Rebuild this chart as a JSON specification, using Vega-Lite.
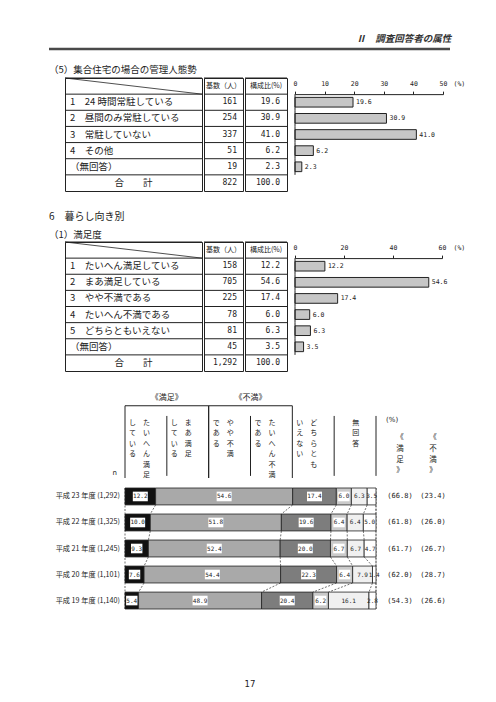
{
  "$schema": "https://vega.github.io/schema/vega-lite/v6.json",
  "background": "white",
  "padding": {"left": 47, "top": 33, "right": 0, "bottom": 0},
  "spacing": 0,
  "config": {
    "view": {"stroke": null},
    "font": "Noto Sans CJK JP",
    "text": {"font": "Noto Sans CJK JP", "color": "#222"},
    "title": {"font": "Noto Sans CJK JP", "fontWeight": "normal", "color": "#222", "subtitleFont": "Noto Sans CJK JP", "subtitleColor": "#222"},
    "concat": {"spacing": 0},
    "axis": {"domainColor": "#222", "tickColor": "#222", "labelColor": "#222", "labelFont": "DejaVu Sans Mono"}
  },
  "datasets": {
    "t1": [
      {"id": "h", "label": "", "n": null, "pct": null},
      {"id": "1", "label": "1　24 時間常駐している", "n": 161, "pct": 19.6},
      {"id": "2", "label": "2　昼間のみ常駐している", "n": 254, "pct": 30.9},
      {"id": "3", "label": "3　常駐していない", "n": 337, "pct": 41.0},
      {"id": "4", "label": "4　その他", "n": 51, "pct": 6.2},
      {"id": "5", "label": "　（無回答）", "n": 19, "pct": 2.3},
      {"id": "t", "label": "合　　計", "n": 822, "pct": 100.0}
    ],
    "t2": [
      {"id": "h", "label": "", "n": null, "pct": null},
      {"id": "1", "label": "1　たいへん満足している", "n": 158, "pct": 12.2},
      {"id": "2", "label": "2　まあ満足している", "n": 705, "pct": 54.6},
      {"id": "3", "label": "3　やや不満である", "n": 225, "pct": 17.4},
      {"id": "4", "label": "4　たいへん不満である", "n": 78, "pct": 6.0},
      {"id": "5", "label": "5　どちらともいえない", "n": 81, "pct": 6.3},
      {"id": "6", "label": "　（無回答）", "n": 45, "pct": 3.5},
      {"id": "t", "label": "合　　計", "n": 1292, "pct": 100.0}
    ],
    "st": [
      {"yr": "平成 23 年度 (1,292)", "fy": 23, "cat": "c1", "value": 12.2},
      {"yr": "平成 23 年度 (1,292)", "fy": 23, "cat": "c2", "value": 54.6},
      {"yr": "平成 23 年度 (1,292)", "fy": 23, "cat": "c3", "value": 17.4},
      {"yr": "平成 23 年度 (1,292)", "fy": 23, "cat": "c4", "value": 6.0},
      {"yr": "平成 23 年度 (1,292)", "fy": 23, "cat": "c5", "value": 6.3},
      {"yr": "平成 23 年度 (1,292)", "fy": 23, "cat": "c6", "value": 3.5},
      {"yr": "平成 22 年度 (1,325)", "fy": 22, "cat": "c1", "value": 10.0},
      {"yr": "平成 22 年度 (1,325)", "fy": 22, "cat": "c2", "value": 51.8},
      {"yr": "平成 22 年度 (1,325)", "fy": 22, "cat": "c3", "value": 19.6},
      {"yr": "平成 22 年度 (1,325)", "fy": 22, "cat": "c4", "value": 6.4},
      {"yr": "平成 22 年度 (1,325)", "fy": 22, "cat": "c5", "value": 6.4},
      {"yr": "平成 22 年度 (1,325)", "fy": 22, "cat": "c6", "value": 5.0},
      {"yr": "平成 21 年度 (1,245)", "fy": 21, "cat": "c1", "value": 9.3},
      {"yr": "平成 21 年度 (1,245)", "fy": 21, "cat": "c2", "value": 52.4},
      {"yr": "平成 21 年度 (1,245)", "fy": 21, "cat": "c3", "value": 20.0},
      {"yr": "平成 21 年度 (1,245)", "fy": 21, "cat": "c4", "value": 6.7},
      {"yr": "平成 21 年度 (1,245)", "fy": 21, "cat": "c5", "value": 6.7},
      {"yr": "平成 21 年度 (1,245)", "fy": 21, "cat": "c6", "value": 4.7},
      {"yr": "平成 20 年度 (1,101)", "fy": 20, "cat": "c1", "value": 7.6},
      {"yr": "平成 20 年度 (1,101)", "fy": 20, "cat": "c2", "value": 54.4},
      {"yr": "平成 20 年度 (1,101)", "fy": 20, "cat": "c3", "value": 22.3},
      {"yr": "平成 20 年度 (1,101)", "fy": 20, "cat": "c4", "value": 6.4},
      {"yr": "平成 20 年度 (1,101)", "fy": 20, "cat": "c5", "value": 7.9},
      {"yr": "平成 20 年度 (1,101)", "fy": 20, "cat": "c6", "value": 1.4},
      {"yr": "平成 19 年度 (1,140)", "fy": 19, "cat": "c1", "value": 5.4},
      {"yr": "平成 19 年度 (1,140)", "fy": 19, "cat": "c2", "value": 48.9},
      {"yr": "平成 19 年度 (1,140)", "fy": 19, "cat": "c3", "value": 20.4},
      {"yr": "平成 19 年度 (1,140)", "fy": 19, "cat": "c4", "value": 6.2},
      {"yr": "平成 19 年度 (1,140)", "fy": 19, "cat": "c5", "value": 16.1},
      {"yr": "平成 19 年度 (1,140)", "fy": 19, "cat": "c6", "value": 2.8}
    ],
    "yrs": [
      {"yr": "平成 23 年度 (1,292)", "sat": "(66.8)", "dis": "(23.4)"},
      {"yr": "平成 22 年度 (1,325)", "sat": "(61.8)", "dis": "(26.0)"},
      {"yr": "平成 21 年度 (1,245)", "sat": "(61.7)", "dis": "(26.7)"},
      {"yr": "平成 20 年度 (1,101)", "sat": "(62.0)", "dis": "(28.7)"},
      {"yr": "平成 19 年度 (1,140)", "sat": "(54.3)", "dis": "(26.6)"}
    ],
    "hdr": [
      {"cat": "c1", "line": "1", "text": "た\nい\nへ\nん\n満\n足"},
      {"cat": "c1", "line": "2", "text": "し\nて\nい\nる"},
      {"cat": "c2", "line": "1", "text": "ま\nあ\n満\n足"},
      {"cat": "c2", "line": "2", "text": "し\nて\nい\nる"},
      {"cat": "c3", "line": "1", "text": "や\nや\n不\n満"},
      {"cat": "c3", "line": "2", "text": "で\nあ\nる"},
      {"cat": "c4", "line": "1", "text": "た\nい\nへ\nん\n不\n満"},
      {"cat": "c4", "line": "2", "text": "で\nあ\nる"},
      {"cat": "c5", "line": "1", "text": "ど\nち\nら\nと\nも"},
      {"cat": "c5", "line": "2", "text": "い\nえ\nな\nい"},
      {"cat": "c6", "line": "1", "text": "無\n回\n答"}
    ]
  },
  "vconcat": [
    {
      "width": 401, "height": 2,
      "title": {"text": "Ⅱ　調査回答者の属性", "anchor": "end", "fontSize": 9.5, "fontStyle": "italic", "fontWeight": "bold", "color": "#333", "offset": 4},
      "data": {"values": [{}]},
      "mark": {"type": "rule", "strokeWidth": 2.5, "color": "#4a4a4a"},
      "encoding": {"y": {"datum": 0, "type": "quantitative", "scale": {"domain": [0, 1]}, "axis": null}}
    },
    {"width": 1, "height": 13, "data": {"values": []}, "mark": "point", "encoding": {}},
    {
      "title": {"text": "（5）集合住宅の場合の管理人態勢", "anchor": "start", "fontSize": 9.5, "offset": 3},
      "spacing": 0,
      "hconcat": [
        {"width": 15, "height": 1, "data": {"values": []}, "mark": "point", "encoding": {}},
        {
          "width": 137, "height": 113,
          "data": {"name": "t1"},
          "view": {"stroke": "#222", "strokeWidth": 1},
          "encoding": {"y": {"field": "id", "type": "nominal", "scale": {"type": "band", "domain": ["h", "1", "2", "3", "4", "5", "t"], "paddingInner": 0, "paddingOuter": 0}, "axis": null}},
          "layer": [
            {"mark": {"type": "rule", "color": "#222", "strokeWidth": 1}, "encoding": {"y": {"field": "id", "type": "nominal", "bandPosition": 0}}},
            {"transform": [{"filter": "datum.id != 'h' && datum.id != 't'"}], "mark": {"type": "text", "align": "left", "dx": 5, "fontSize": 9.5}, "encoding": {"x": {"datum": 0, "type": "quantitative", "scale": {"domain": [0, 1]}, "axis": null}, "text": {"field": "label"}}},
            {"transform": [{"filter": "datum.id == 't'"}], "mark": {"type": "text", "align": "center", "fontSize": 9.5}, "encoding": {"x": {"datum": 0.5, "type": "quantitative", "scale": {"domain": [0, 1]}, "axis": null}, "text": {"field": "label"}}},
            {"transform": [{"filter": "datum.id == 'h'"}], "mark": {"type": "rule", "strokeWidth": 0.8, "color": "#222"}, "encoding": {"x": {"datum": 0, "type": "quantitative", "scale": {"domain": [0, 1]}, "axis": null}, "x2": {"datum": 1}, "y": {"field": "id", "type": "nominal", "bandPosition": 0}, "y2": {"field": "id", "bandPosition": 1}}}
          ]
        },
        {
          "width": 39, "height": 113,
          "data": {"name": "t1"},
          "view": {"stroke": "#222", "strokeWidth": 1},
          "encoding": {"y": {"field": "id", "type": "nominal", "scale": {"type": "band", "domain": ["h", "1", "2", "3", "4", "5", "t"], "paddingInner": 0, "paddingOuter": 0}, "axis": null}},
          "layer": [
            {"mark": {"type": "rule", "color": "#222", "strokeWidth": 1}, "encoding": {"y": {"field": "id", "type": "nominal", "bandPosition": 0}}},
            {"transform": [{"filter": "datum.id == 'h'"}], "mark": {"type": "text", "text": "基数（人）", "fontSize": 7}, "encoding": {"x": {"datum": 0.5, "type": "quantitative", "scale": {"domain": [0, 1]}, "axis": null}}},
            {"transform": [{"filter": "datum.id != 'h'"}], "mark": {"type": "text", "align": "right", "dx": -6, "font": "DejaVu Sans Mono", "fontSize": 8}, "encoding": {"x": {"datum": 1, "type": "quantitative", "scale": {"domain": [0, 1]}, "axis": null}, "text": {"field": "n", "format": ",d"}}}
          ]
        },
        {
          "width": 42, "height": 113,
          "data": {"name": "t1"},
          "view": {"stroke": "#222", "strokeWidth": 1},
          "encoding": {"y": {"field": "id", "type": "nominal", "scale": {"type": "band", "domain": ["h", "1", "2", "3", "4", "5", "t"], "paddingInner": 0, "paddingOuter": 0}, "axis": null}},
          "layer": [
            {"mark": {"type": "rule", "color": "#222", "strokeWidth": 1}, "encoding": {"y": {"field": "id", "type": "nominal", "bandPosition": 0}}},
            {"transform": [{"filter": "datum.id == 'h'"}], "mark": {"type": "text", "text": "構成比(%)", "fontSize": 7}, "encoding": {"x": {"datum": 0.5, "type": "quantitative", "scale": {"domain": [0, 1]}, "axis": null}}},
            {"transform": [{"filter": "datum.id != 'h'"}], "mark": {"type": "text", "align": "right", "dx": -7, "font": "DejaVu Sans Mono", "fontSize": 8}, "encoding": {"x": {"datum": 1, "type": "quantitative", "scale": {"domain": [0, 1]}, "axis": null}, "text": {"field": "pct", "format": ".1f"}}}
          ]
        },
        {"width": 5, "height": 1, "data": {"values": []}, "mark": "point", "encoding": {}},
        {
          "width": 148, "height": 113,
          "data": {"name": "t1"},
          "transform": [{"filter": "datum.id != 'h' && datum.id != 't'"}],
          "encoding": {
            "y": {"field": "id", "type": "nominal", "scale": {"type": "band", "domain": ["h", "1", "2", "3", "4", "5", "t"], "paddingInner": 0, "paddingOuter": 0}, "axis": null},
            "x": {"field": "pct", "type": "quantitative", "scale": {"domain": [0, 50], "nice": false}, "axis": {"orient": "top", "offset": -16.14, "values": [0, 10, 20, 30, 40, 50], "grid": false, "labelFlush": false, "labelOverlap": false, "labelFontSize": 6.5, "tickSize": 3, "labelPadding": 5, "title": "(%)", "titleFont": "DejaVu Sans Mono", "titleFontSize": 6.5, "titleFontWeight": "normal", "titleColor": "#222", "titleAngle": 0, "titleAlign": "left", "titleBaseline": "middle", "titleX": 158, "titleY": -11}}
          },
          "layer": [
            {"mark": {"type": "bar", "height": {"band": 0.6}, "fill": "#c6c6c6", "stroke": "#222", "strokeWidth": 1}},
            {"mark": {"type": "rule", "color": "#222", "strokeWidth": 1}, "encoding": {"x": {"datum": 0, "type": "quantitative", "axis": {"orient": "top", "offset": -16.14, "values": [0, 10, 20, 30, 40, 50], "grid": false, "labelFlush": false, "labelOverlap": false, "labelFontSize": 6.5, "tickSize": 3, "labelPadding": 5, "title": "(%)", "titleFont": "DejaVu Sans Mono", "titleFontSize": 6.5, "titleFontWeight": "normal", "titleColor": "#222", "titleAngle": 0, "titleAlign": "left", "titleBaseline": "middle", "titleX": 158, "titleY": -11}}, "y": {"field": "id", "type": "nominal", "bandPosition": 0}, "y2": {"field": "id", "bandPosition": 1}}},
            {"mark": {"type": "text", "align": "left", "dx": 3, "font": "DejaVu Sans Mono", "fontSize": 6.5}, "encoding": {"text": {"field": "pct", "format": ".1f"}}}
          ]
        }
      ]
    },
    {"width": 1, "height": 19, "data": {"values": []}, "mark": "point", "encoding": {}},
    {
      "title": {"text": "6　暮らし向き別", "subtitle": "（1）満足度", "anchor": "start", "fontSize": 10, "subtitleFontSize": 9.5, "subtitlePadding": 8, "offset": 2},
      "spacing": 0,
      "hconcat": [
        {"width": 15, "height": 1, "data": {"values": []}, "mark": "point", "encoding": {}},
        {
          "width": 137, "height": 129,
          "data": {"name": "t2"},
          "view": {"stroke": "#222", "strokeWidth": 1},
          "encoding": {"y": {"field": "id", "type": "nominal", "scale": {"type": "band", "domain": ["h", "1", "2", "3", "4", "5", "6", "t"], "paddingInner": 0, "paddingOuter": 0}, "axis": null}},
          "layer": [
            {"mark": {"type": "rule", "color": "#222", "strokeWidth": 1}, "encoding": {"y": {"field": "id", "type": "nominal", "bandPosition": 0}}},
            {"transform": [{"filter": "datum.id != 'h' && datum.id != 't'"}], "mark": {"type": "text", "align": "left", "dx": 5, "fontSize": 9.5}, "encoding": {"x": {"datum": 0, "type": "quantitative", "scale": {"domain": [0, 1]}, "axis": null}, "text": {"field": "label"}}},
            {"transform": [{"filter": "datum.id == 't'"}], "mark": {"type": "text", "align": "center", "fontSize": 9.5}, "encoding": {"x": {"datum": 0.5, "type": "quantitative", "scale": {"domain": [0, 1]}, "axis": null}, "text": {"field": "label"}}},
            {"transform": [{"filter": "datum.id == 'h'"}], "mark": {"type": "rule", "strokeWidth": 0.8, "color": "#222"}, "encoding": {"x": {"datum": 0, "type": "quantitative", "scale": {"domain": [0, 1]}, "axis": null}, "x2": {"datum": 1}, "y": {"field": "id", "type": "nominal", "bandPosition": 0}, "y2": {"field": "id", "bandPosition": 1}}}
          ]
        },
        {
          "width": 39, "height": 129,
          "data": {"name": "t2"},
          "view": {"stroke": "#222", "strokeWidth": 1},
          "encoding": {"y": {"field": "id", "type": "nominal", "scale": {"type": "band", "domain": ["h", "1", "2", "3", "4", "5", "6", "t"], "paddingInner": 0, "paddingOuter": 0}, "axis": null}},
          "layer": [
            {"mark": {"type": "rule", "color": "#222", "strokeWidth": 1}, "encoding": {"y": {"field": "id", "type": "nominal", "bandPosition": 0}}},
            {"transform": [{"filter": "datum.id == 'h'"}], "mark": {"type": "text", "text": "基数（人）", "fontSize": 7}, "encoding": {"x": {"datum": 0.5, "type": "quantitative", "scale": {"domain": [0, 1]}, "axis": null}}},
            {"transform": [{"filter": "datum.id != 'h'"}], "mark": {"type": "text", "align": "right", "dx": -6, "font": "DejaVu Sans Mono", "fontSize": 8}, "encoding": {"x": {"datum": 1, "type": "quantitative", "scale": {"domain": [0, 1]}, "axis": null}, "text": {"field": "n", "format": ",d"}}}
          ]
        },
        {
          "width": 42, "height": 129,
          "data": {"name": "t2"},
          "view": {"stroke": "#222", "strokeWidth": 1},
          "encoding": {"y": {"field": "id", "type": "nominal", "scale": {"type": "band", "domain": ["h", "1", "2", "3", "4", "5", "6", "t"], "paddingInner": 0, "paddingOuter": 0}, "axis": null}},
          "layer": [
            {"mark": {"type": "rule", "color": "#222", "strokeWidth": 1}, "encoding": {"y": {"field": "id", "type": "nominal", "bandPosition": 0}}},
            {"transform": [{"filter": "datum.id == 'h'"}], "mark": {"type": "text", "text": "構成比(%)", "fontSize": 7}, "encoding": {"x": {"datum": 0.5, "type": "quantitative", "scale": {"domain": [0, 1]}, "axis": null}}},
            {"transform": [{"filter": "datum.id != 'h'"}], "mark": {"type": "text", "align": "right", "dx": -7, "font": "DejaVu Sans Mono", "fontSize": 8}, "encoding": {"x": {"datum": 1, "type": "quantitative", "scale": {"domain": [0, 1]}, "axis": null}, "text": {"field": "pct", "format": ".1f"}}}
          ]
        },
        {"width": 5, "height": 1, "data": {"values": []}, "mark": "point", "encoding": {}},
        {
          "width": 147, "height": 129,
          "data": {"name": "t2"},
          "transform": [{"filter": "datum.id != 'h' && datum.id != 't'"}],
          "encoding": {
            "y": {"field": "id", "type": "nominal", "scale": {"type": "band", "domain": ["h", "1", "2", "3", "4", "5", "6", "t"], "paddingInner": 0, "paddingOuter": 0}, "axis": null},
            "x": {"field": "pct", "type": "quantitative", "scale": {"domain": [0, 60], "nice": false}, "axis": {"orient": "top", "offset": -16.1, "values": [0, 20, 40, 60], "grid": false, "labelFlush": false, "labelOverlap": false, "labelFontSize": 6.5, "tickSize": 3, "labelPadding": 5, "title": "(%)", "titleFont": "DejaVu Sans Mono", "titleFontSize": 6.5, "titleFontWeight": "normal", "titleColor": "#222", "titleAngle": 0, "titleAlign": "left", "titleBaseline": "middle", "titleX": 158, "titleY": -11}}
          },
          "layer": [
            {"mark": {"type": "bar", "height": {"band": 0.6}, "fill": "#c6c6c6", "stroke": "#222", "strokeWidth": 1}},
            {"mark": {"type": "rule", "color": "#222", "strokeWidth": 1}, "encoding": {"x": {"datum": 0, "type": "quantitative", "axis": {"orient": "top", "offset": -16.1, "values": [0, 20, 40, 60], "grid": false, "labelFlush": false, "labelOverlap": false, "labelFontSize": 6.5, "tickSize": 3, "labelPadding": 5, "title": "(%)", "titleFont": "DejaVu Sans Mono", "titleFontSize": 6.5, "titleFontWeight": "normal", "titleColor": "#222", "titleAngle": 0, "titleAlign": "left", "titleBaseline": "middle", "titleX": 158, "titleY": -11}}, "y": {"field": "id", "type": "nominal", "bandPosition": 0}, "y2": {"field": "id", "bandPosition": 1}}},
            {"mark": {"type": "text", "align": "left", "dx": 3, "font": "DejaVu Sans Mono", "fontSize": 6.5}, "encoding": {"text": {"field": "pct", "format": ".1f"}}}
          ]
        }
      ]
    },
    {"width": 1, "height": 21, "data": {"values": []}, "mark": "point", "encoding": {}},
    {
      "columns": 4,
      "spacing": {"row": 8, "column": 0},
      "concat": [
        {
          "width": 75, "height": 85,
          "data": {"values": [{"t": "n"}]},
          "mark": {"type": "text", "align": "right", "baseline": "bottom", "dx": -7, "dy": -2, "fontSize": 7, "font": "DejaVu Sans"},
          "encoding": {"text": {"field": "t"}, "x": {"datum": 1, "type": "quantitative", "scale": {"domain": [0, 1]}, "axis": null}, "y": {"datum": 0, "type": "quantitative", "scale": {"domain": [0, 1]}, "axis": null}}
        },
        {
          "width": 251, "height": 85,
          "resolve": {"scale": {"x": "independent"}},
          "layer": [
            {
              "data": {"values": [{"grp": "《満足》"}, {"grp": "《不満》"}]},
              "mark": {"type": "rule", "strokeWidth": 1, "color": "#222"},
              "encoding": {
                "x": {"field": "grp", "type": "nominal", "bandPosition": 0, "scale": {"type": "band", "domain": ["《満足》", "《不満》", "・"], "paddingInner": 0, "paddingOuter": 0}, "axis": null},
                "x2": {"field": "grp", "bandPosition": 1},
                "y": {"datum": 0.85, "type": "quantitative", "scale": {"domain": [0, 1]}, "axis": null}
              }
            },
            {
              "data": {"values": [{"grp": "《満足》"}, {"grp": "《不満》"}]},
              "mark": {"type": "rule", "strokeWidth": 1, "color": "#222"},
              "encoding": {
                "x": {"field": "grp", "type": "nominal", "bandPosition": 0, "scale": {"type": "band", "domain": ["《満足》", "《不満》", "・"], "paddingInner": 0, "paddingOuter": 0}, "axis": null},
                "y": {"datum": 0.85, "type": "quantitative", "scale": {"domain": [0, 1]}, "axis": null},
                "y2": {"datum": 0}
              }
            },
            {
              "data": {"values": [{"grp": "《満足》"}, {"grp": "《不満》"}]},
              "mark": {"type": "rule", "strokeWidth": 1, "color": "#222"},
              "encoding": {
                "x": {"field": "grp", "type": "nominal", "bandPosition": 1, "scale": {"type": "band", "domain": ["《満足》", "《不満》", "・"], "paddingInner": 0, "paddingOuter": 0}, "axis": null},
                "y": {"datum": 0.85, "type": "quantitative", "scale": {"domain": [0, 1]}, "axis": null},
                "y2": {"datum": 0}
              }
            },
            {
              "data": {"values": [{"grp": "《満足》"}, {"grp": "《不満》"}]},
              "mark": {"type": "text", "fontSize": 8, "baseline": "middle"},
              "encoding": {
                "x": {"field": "grp", "type": "nominal", "scale": {"type": "band", "domain": ["《満足》", "《不満》", "・"], "paddingInner": 0, "paddingOuter": 0}, "axis": null},
                "y": {"datum": 0.94, "type": "quantitative", "scale": {"domain": [0, 1]}, "axis": null},
                "text": {"field": "grp"}
              }
            },
            {
              "data": {"name": "hdr"},
              "transform": [{"filter": "datum.line == '1' && (datum.cat == 'c2' || datum.cat == 'c4' || datum.cat == 'c6')"}],
              "mark": {"type": "rule", "strokeWidth": 1, "color": "#222"},
              "encoding": {
                "x": {"field": "cat", "type": "nominal", "bandPosition": 0, "scale": {"type": "band", "domain": ["c1", "c2", "c3", "c4", "c5", "c6"], "paddingInner": 0, "paddingOuter": 0}, "axis": null},
                "y": {"datum": 0.73, "type": "quantitative", "scale": {"domain": [0, 1]}, "axis": null},
                "y2": {"datum": 0.025}
              }
            },
            {
              "data": {"name": "hdr"},
              "transform": [{"filter": "datum.line == '1' && datum.cat == 'c6'"}],
              "mark": {"type": "rule", "strokeWidth": 1, "color": "#222"},
              "encoding": {
                "x": {"field": "cat", "type": "nominal", "bandPosition": 1, "scale": {"type": "band", "domain": ["c1", "c2", "c3", "c4", "c5", "c6"], "paddingInner": 0, "paddingOuter": 0}, "axis": null},
                "y": {"datum": 0.73, "type": "quantitative", "scale": {"domain": [0, 1]}, "axis": null},
                "y2": {"datum": 0.025}
              }
            },
            {
              "data": {"name": "hdr"},
              "mark": {"type": "text", "align": "center", "baseline": "top", "lineBreak": "\n", "lineHeight": 10.4, "fontSize": 7},
              "encoding": {
                "x": {"field": "cat", "type": "nominal", "scale": {"type": "band", "domain": ["c1", "c2", "c3", "c4", "c5", "c6"], "paddingInner": 0, "paddingOuter": 0}, "axis": null},
                "xOffset": {"field": "line", "type": "nominal", "scale": {"type": "point", "domain": ["2", "1"], "padding": 1.24, "align": 0.27}},
                "y": {"datum": 0.694, "type": "quantitative", "scale": {"domain": [0, 1]}, "axis": null},
                "text": {"field": "text"}
              }
            }
          ]
        },
        {
          "width": 40, "height": 85,
          "layer": [
            {
              "data": {"values": [{"t": "(%)"}]},
              "mark": {"type": "text", "align": "left", "baseline": "top", "dx": 6, "fontSize": 7, "font": "DejaVu Sans"},
              "encoding": {"x": {"datum": 0, "type": "quantitative", "scale": {"domain": [0, 1]}, "axis": null}, "y": {"datum": 0.73, "type": "quantitative", "scale": {"domain": [0, 1]}, "axis": null}, "text": {"field": "t"}}
            },
            {
              "data": {"values": [{"t": "《\n満\n足\n》"}]},
              "mark": {"type": "text", "align": "center", "baseline": "top", "lineBreak": "\n", "lineHeight": 11, "fontSize": 7.5},
              "encoding": {"x": {"datum": 0.5, "type": "quantitative", "scale": {"domain": [0, 1]}, "axis": null}, "y": {"datum": 0.518, "type": "quantitative", "scale": {"domain": [0, 1]}, "axis": null}, "text": {"field": "t"}}
            }
          ]
        },
        {
          "width": 20, "height": 85,
          "data": {"values": [{"t": "《\n不\n満\n》"}]},
          "mark": {"type": "text", "align": "center", "baseline": "top", "lineBreak": "\n", "lineHeight": 11, "fontSize": 7.5},
          "encoding": {"x": {"datum": 0.5, "type": "quantitative", "scale": {"domain": [0, 1]}, "axis": null}, "y": {"datum": 0.518, "type": "quantitative", "scale": {"domain": [0, 1]}, "axis": null}, "text": {"field": "t"}}
        },
        {
          "width": 75, "height": 121,
          "data": {"name": "yrs"},
          "mark": {"type": "text", "align": "right", "dx": -4, "fontSize": 7.2},
          "encoding": {
            "y": {"field": "yr", "type": "nominal", "scale": {"type": "band", "domain": ["平成 23 年度 (1,292)", "平成 22 年度 (1,325)", "平成 21 年度 (1,245)", "平成 20 年度 (1,101)", "平成 19 年度 (1,140)"], "paddingInner": 0.35, "paddingOuter": 0}, "axis": null},
            "x": {"datum": 1, "type": "quantitative", "scale": {"domain": [0, 1]}, "axis": null},
            "text": {"field": "yr"}
          }
        },
        {
          "width": 251, "height": 121,
          "layer": [
            {
              "data": {"values": [{}]},
              "mark": {"type": "rule", "strokeDash": [2, 1.5], "strokeWidth": 0.7, "color": "#333"},
              "encoding": {"x": {"datum": 0, "type": "quantitative", "scale": {"domain": [0, 1], "nice": false}, "axis": null}}
            },
            {
              "data": {"values": [{}]},
              "mark": {"type": "rule", "strokeDash": [2, 1.5], "strokeWidth": 0.7, "color": "#333"},
              "encoding": {"x": {"datum": 1, "type": "quantitative", "axis": null}}
            },
            {
              "data": {"name": "st"},
              "transform": [
                {"stack": "value", "groupby": ["yr"], "sort": [{"field": "cat", "order": "ascending"}], "offset": "normalize", "as": ["v0", "v1"]},
                {"window": [{"op": "lead", "field": "v1", "as": "v1n"}, {"op": "lead", "field": "yr", "as": "yrn"}], "groupby": ["cat"], "sort": [{"field": "fy", "order": "descending"}]},
                {"filter": "datum.yrn != null"}
              ],
              "mark": {"type": "rule", "strokeDash": [2, 1.5], "strokeWidth": 0.7, "color": "#333"},
              "encoding": {
                "x": {"field": "v1", "type": "quantitative", "axis": null},
                "x2": {"field": "v1n"},
                "y": {"field": "yr", "type": "nominal", "bandPosition": 1, "scale": {"type": "band", "domain": ["平成 23 年度 (1,292)", "平成 22 年度 (1,325)", "平成 21 年度 (1,245)", "平成 20 年度 (1,101)", "平成 19 年度 (1,140)"], "paddingInner": 0.35, "paddingOuter": 0}, "axis": null},
                "y2": {"field": "yrn", "bandPosition": 0}
              }
            },
            {
              "data": {"name": "st"},
              "mark": {"type": "bar", "stroke": "#222", "strokeWidth": 0.8},
              "encoding": {
                "x": {"field": "value", "type": "quantitative", "stack": "normalize", "axis": null},
                "y": {"field": "yr", "type": "nominal", "axis": null},
                "color": {"field": "cat", "type": "nominal", "scale": {"domain": ["c1", "c2", "c3", "c4", "c5", "c6"], "range": ["#111111", "#a9a9a9", "#7d7d7d", "#cacaca", "#f0f0f0", "#ffffff"]}, "legend": null},
                "order": {"field": "cat"}
              }
            },
            {
              "data": {"name": "st"},
              "mark": {"type": "point", "filled": true, "color": "white", "strokeWidth": 0, "size": 225},
              "encoding": {
                "x": {"field": "value", "type": "quantitative", "stack": "normalize", "bandPosition": 0.5, "axis": null},
                "y": {"field": "yr", "type": "nominal", "axis": null},
                "detail": {"field": "cat"},
                "order": {"field": "cat"},
                "shape": {"condition": {"test": "datum.value >= 10", "value": "M-1,-0.64L1,-0.64L1,0.64L-1,0.64Z"}, "value": "M-0.76,-0.64L0.76,-0.64L0.76,0.64L-0.76,0.64Z"},
                "opacity": {"condition": {"test": "datum.cat == 'c5' || datum.cat == 'c6'", "value": 0}, "value": 1}
              }
            },
            {
              "data": {"name": "st"},
              "mark": {"type": "text", "font": "DejaVu Sans Mono", "fontSize": 6, "color": "#222"},
              "encoding": {
                "x": {"field": "value", "type": "quantitative", "stack": "normalize", "bandPosition": 0.5, "axis": null},
                "y": {"field": "yr", "type": "nominal", "axis": null},
                "detail": {"field": "cat"},
                "order": {"field": "cat"},
                "text": {"field": "value", "format": ".1f"}
              }
            }
          ]
        },
        {
          "width": 40, "height": 121,
          "data": {"name": "yrs"},
          "mark": {"type": "text", "font": "DejaVu Sans Mono", "fontSize": 7},
          "encoding": {
            "y": {"field": "yr", "type": "nominal", "scale": {"type": "band", "domain": ["平成 23 年度 (1,292)", "平成 22 年度 (1,325)", "平成 21 年度 (1,245)", "平成 20 年度 (1,101)", "平成 19 年度 (1,140)"], "paddingInner": 0.35, "paddingOuter": 0}, "axis": null},
            "text": {"field": "sat"}
          }
        },
        {
          "width": 20, "height": 121,
          "data": {"name": "yrs"},
          "mark": {"type": "text", "font": "DejaVu Sans Mono", "fontSize": 7},
          "encoding": {
            "y": {"field": "yr", "type": "nominal", "scale": {"type": "band", "domain": ["平成 23 年度 (1,292)", "平成 22 年度 (1,325)", "平成 21 年度 (1,245)", "平成 20 年度 (1,101)", "平成 19 年度 (1,140)"], "paddingInner": 0.35, "paddingOuter": 0}, "axis": null},
            "text": {"field": "dis"}
          }
        }
      ]
    },
    {"width": 1, "height": 68, "data": {"values": []}, "mark": "point", "encoding": {}},
    {
      "width": 402, "height": 12,
      "data": {"values": [{"p": "17"}]},
      "mark": {"type": "text", "fontSize": 8.5, "font": "DejaVu Sans"},
      "encoding": {"text": {"field": "p"}}
    }
  ]
}
